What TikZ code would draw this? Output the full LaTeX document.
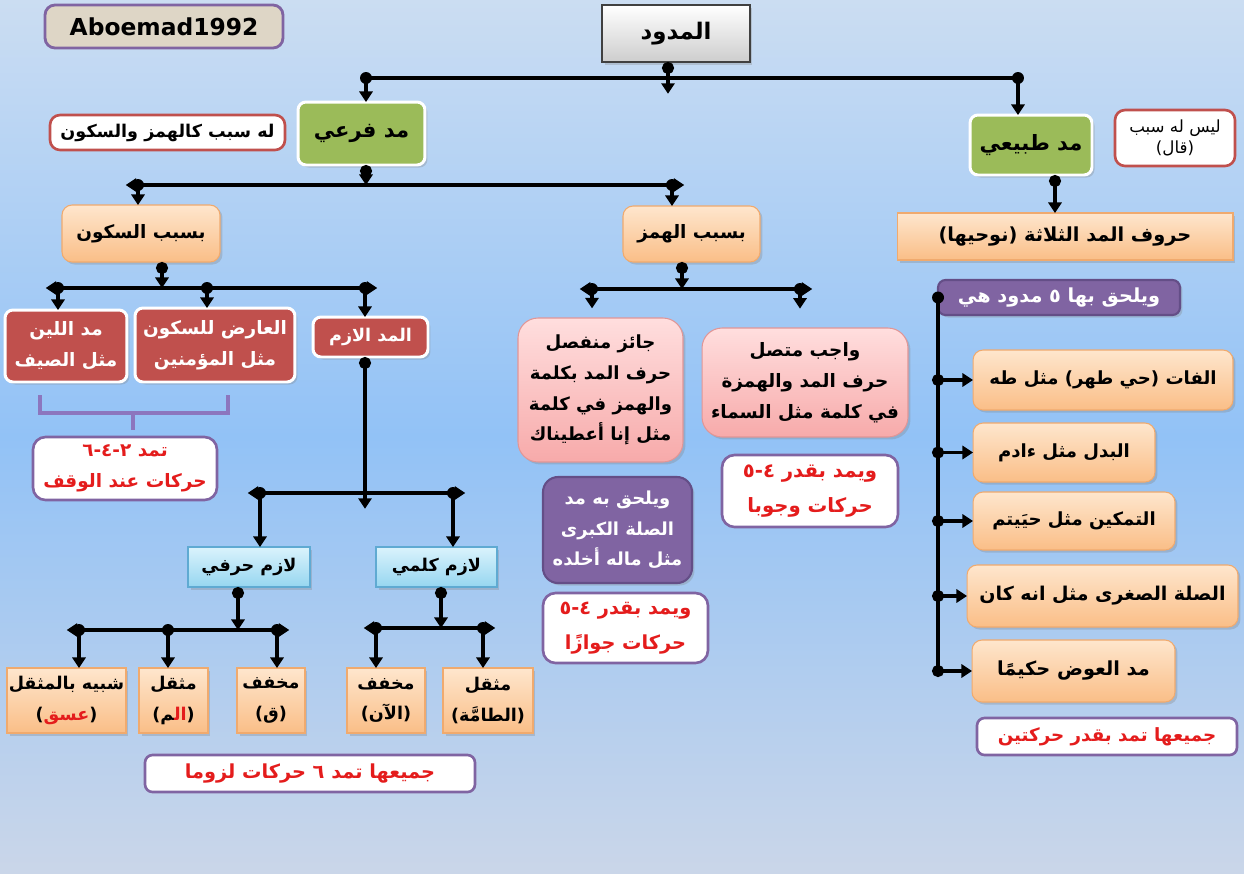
\documentclass[tikz,border=0pt]{standalone}
\usepackage{fontspec}
\setmainfont{DejaVu Sans}
\newfontfamily\arabicfont[Script=Arabic]{DejaVu Sans}
\newfontfamily\latinb{DejaVu Sans}
\TeXXeTstate=1
\usetikzlibrary{arrows.meta,shadows}
\newcommand\AR[1]{\beginR#1\endR}
\newcommand\F[1]{\arabicfont\bfseries\fontsize{#1}{17.5}\selectfont}
\definecolor{bgtop}{RGB}{203,221,242}
\definecolor{bgmid}{RGB}{146,194,246}
\definecolor{bgbot}{RGB}{202,214,233}
\definecolor{grn}{RGB}{155,187,89}
\definecolor{rbox}{RGB}{192,80,77}
\definecolor{pur}{RGB}{128,100,162}
\definecolor{purd}{RGB}{100,78,135}
\definecolor{orgT}{RGB}{254,230,205}
\definecolor{orgB}{RGB}{250,190,135}
\definecolor{orgD}{RGB}{240,170,110}
\definecolor{pnkT}{RGB}{255,222,222}
\definecolor{pnkB}{RGB}{247,170,170}
\definecolor{pnkD}{RGB}{225,150,150}
\definecolor{cyT}{RGB}{218,243,252}
\definecolor{cyB}{RGB}{150,214,240}
\definecolor{cyD}{RGB}{95,170,210}
\definecolor{tred}{RGB}{228,28,28}
\definecolor{beige}{RGB}{222,214,198}
\definecolor{gryB}{RGB}{205,205,205}
\definecolor{brc}{RGB}{140,118,190}
\tikzset{
  ln/.style={line width=2.2pt, black},
  dotarr/.style={ln, {Circle[length=6.8pt]}-{Triangle[length=6pt,width=7.5pt]}},
  arr/.style={ln, -{Triangle[length=6pt,width=7.5pt]}},
  barst/.style={ln, {Triangle[length=6pt,width=7.5pt]}-{Triangle[length=6pt,width=7.5pt]}, shorten <=-7pt, shorten >=-7pt},
  brace/.style={line width=1.8pt, brc},
  bx/.style={align=center, inner sep=1pt, outer sep=0pt, text=black, font=\F{10.5}},
  shd/.style={drop shadow={opacity=0.3,shadow xshift=0.05cm,shadow yshift=-0.05cm}},
  grnbox/.style={bx, shd, fill=grn, draw=white, line width=1.7pt, rounded corners=0.16cm, font=\F{12}},
  redbox/.style={bx, shd, fill=rbox, draw=white, line width=1.7pt, rounded corners=0.16cm, text=white},
  orgbox/.style={bx, shd, top color=orgT, bottom color=orgB, draw=orgD, line width=0.6pt, rounded corners=0.2cm},
  orgsq/.style={bx, shd, top color=orgT, bottom color=orgB, draw=orgD, line width=0.6pt},
  pnkbox/.style={bx, shd, top color=pnkT, bottom color=pnkB, draw=pnkD, line width=0.6pt, rounded corners=0.4cm},
  cybox/.style={bx, shd, top color=cyT, bottom color=cyB, draw=cyD, line width=0.6pt},
  purbox/.style={bx, shd, fill=pur, draw=purd, line width=1.2pt, rounded corners=0.3cm, text=white},
  wbox/.style={bx, fill=white, draw=pur, line width=1.5pt, rounded corners=0.25cm, text=tred},
  wrbox/.style={bx, fill=white, draw=rbox, line width=1.5pt, rounded corners=0.2cm},
  graybox/.style={bx, shd, top color=white, bottom color=gryB, draw=black!75, line width=0.8pt},
}
\begin{document}
\begin{tikzpicture}[x=0.02cm,y=-0.02cm]
\useasboundingbox (0,0) rectangle (1244,873);
\shade[top color=bgtop, bottom color=bgbot, middle color=bgmid] (0,0) rectangle (1244,873);

% nodes
\node[bx, fill=beige, draw=pur, line width=1.6pt, rounded corners=0.2cm, minimum width=4.76cm, minimum height=0.86cm,
  font=\bfseries\fontsize{13.3}{16}\selectfont] (abo) at (164,26.5) {Aboemad1992};
\node[graybox, minimum width=2.96cm, minimum height=1.14cm, font=\F{13}] (root) at (676,33.5) {\AR{المدود}};
\node[grnbox, minimum width=2.54cm, minimum height=1.26cm] (far3i) at (361.5,133.5) {\AR{مد فرعي}};
\node[wrbox, minimum width=4.70cm, minimum height=0.70cm, font=\F{10}] (note1) at (167.5,132.5) {\AR{له سبب كالهمز والسكون}};
\node[grnbox, minimum width=2.44cm, minimum height=1.20cm] (tabii) at (1031,145) {\AR{مد طبيعي}};
\node[wrbox, minimum width=2.40cm, minimum height=1.12cm, font=\arabicfont\fontsize{9.5}{12}\selectfont] (note2) at (1175,138) {\AR{ليس له سبب}\\\AR{(قال)}};
\node[orgbox, minimum width=3.16cm, minimum height=1.14cm] (sukun) at (141,233.5) {\AR{بسبب السكون}};
\node[orgbox, minimum width=2.74cm, minimum height=1.12cm] (hamz) at (691.5,234) {\AR{بسبب الهمز}};
\node[orgsq, minimum width=6.72cm, minimum height=0.94cm, font=\F{11}] (huruf) at (1065,236.5) {\AR{حروف المد الثلاثة (نوحيها)}};
\node[purbox, rounded corners=0.15cm, minimum width=4.84cm, minimum height=0.70cm, font=\F{11}] (yulhaq) at (1059,297.5) {\AR{ويلحق بها ٥ مدود هي}};
\node[redbox, minimum width=2.44cm, minimum height=1.44cm] (lin) at (66,346) {\AR{مد اللين}\\\AR{مثل الصيف}};
\node[redbox, minimum width=3.20cm, minimum height=1.48cm] (arid) at (215,345) {\AR{العارض للسكون}\\\AR{مثل المؤمنين}};
\node[redbox, minimum width=2.30cm, minimum height=0.80cm, font=\F{10}] (lazim) at (370.5,337) {\AR{المد الازم}};
\node[pnkbox, minimum width=3.30cm, minimum height=2.88cm, font=\F{10.3}] (jaiz) at (600.5,390) {\AR{جائز منفصل}\\\AR{حرف المد بكلمة}\\\AR{والهمز في كلمة}\\\AR{مثل إنا أعطيناك}};
\node[pnkbox, minimum width=4.12cm, minimum height=2.18cm, font=\F{10.5}] (wajib) at (805,382.5) {\AR{واجب متصل}\\\AR{حرف المد والهمزة}\\\AR{في كلمة مثل السماء}};
\node[orgbox, minimum width=5.20cm, minimum height=1.20cm, font=\F{10.3}] (r1) at (1103,380) {\AR{الفات (حي طهر) مثل طه}};
\node[orgbox, minimum width=3.64cm, minimum height=1.18cm, font=\F{10.3}] (r2) at (1064,452.5) {\AR{البدل مثل ءادم}};
\node[orgbox, minimum width=4.04cm, minimum height=1.16cm, font=\F{10.3}] (r3) at (1074,521) {\AR{التمكين مثل حيَيتم}};
\node[orgbox, minimum width=5.42cm, minimum height=1.24cm, font=\F{10.8}] (r4) at (1102.5,596) {\AR{الصلة الصغرى مثل انه كان}};
\node[orgbox, minimum width=4.06cm, minimum height=1.24cm, font=\F{11}] (r5) at (1073.5,671) {\AR{مد العوض حكيمًا}};
\node[wbox, rounded corners=0.15cm, minimum width=5.20cm, minimum height=0.74cm, font=\F{10.4}] (r6) at (1107,736.5) {\AR{جميعها تمد بقدر حركتين}};
\node[wbox, minimum width=3.68cm, minimum height=1.26cm] (waqf) at (125,468.5) {\AR{تمد ٢-٤-٦}\\\AR{حركات عند الوقف}};
\node[wbox, minimum width=3.52cm, minimum height=1.44cm, font=\arabicfont\bfseries\fontsize{11.2}{19.5}\selectfont] (wujub) at (810,491) {\AR{ويمد بقدر ٤-٥}\\\AR{حركات وجوبا}};
\node[purbox, minimum width=2.98cm, minimum height=2.12cm, font=\F{10.2}] (kubra) at (617.5,530) {\AR{ويلحق به مد}\\\AR{الصلة الكبرى}\\\AR{مثل ماله أخلده}};
\node[wbox, minimum width=3.30cm, minimum height=1.40cm, font=\arabicfont\bfseries\fontsize{11}{20}\selectfont] (jawaz) at (625.5,628) {\AR{ويمد بقدر ٤-٥}\\\AR{حركات جوازًا}};
\node[cybox, minimum width=2.44cm, minimum height=0.80cm, font=\F{10}] (harfi) at (249,567) {\AR{لازم حرفي}};
\node[cybox, minimum width=2.42cm, minimum height=0.80cm, font=\F{10}] (kalimi) at (436.5,567) {\AR{لازم كلمي}};
\node[orgsq, minimum width=2.38cm, minimum height=1.30cm, font=\F{10}] (shabih) at (66.5,700.5) {\AR{شبيه بالمثقل}\\{\latinb(}\textcolor{tred}{عسق}{\latinb)}};
\node[orgsq, minimum width=1.38cm, minimum height=1.30cm, font=\F{10}] (m1) at (173.5,700.5) {\AR{مثقل}\\{\latinb(}‍م{\color{tred}ال‍}{\latinb)}};
\node[orgsq, minimum width=1.36cm, minimum height=1.30cm, font=\F{10}] (f1) at (271,700.5) {\AR{مخفف}\\\AR{(ق)}};
\node[orgsq, minimum width=1.56cm, minimum height=1.30cm, font=\F{10}] (f2) at (386,700.5) {\AR{مخفف}\\\AR{(الآن)}};
\node[orgsq, minimum width=1.80cm, minimum height=1.30cm, font=\F{10}] (m2) at (488,700.5) {\AR{مثقل}\\\AR{(الطامَّة)}};
\node[wbox, rounded corners=0.15cm, minimum width=6.60cm, minimum height=0.74cm, font=\F{11}] (lizuman) at (310,773.5) {\AR{جميعها تمد ٦ حركات لزوما}};

% connector coordinates
\coordinate (a0) at (668,78); \coordinate (aL) at (366,78); \coordinate (aR) at (1018,78);
\coordinate (b0) at (366,185); \coordinate (bL) at (138,185); \coordinate (bR) at (672,185);
\coordinate (c0) at (682,289); \coordinate (cL) at (592,289); \coordinate (cR) at (800,289);
\coordinate (d0) at (1055,200);
\coordinate (f0) at (162,288); \coordinate (fL) at (58,288); \coordinate (fM) at (207,288); \coordinate (fR) at (365,288);
\coordinate (h0) at (365,493); \coordinate (hL) at (260,493); \coordinate (hR) at (453,493);
\coordinate (i0) at (238,630); \coordinate (iL) at (79,630); \coordinate (iM) at (168,630); \coordinate (iR) at (277,630);
\coordinate (j0) at (441,628); \coordinate (jL) at (376,628); \coordinate (jR) at (483,628);
\coordinate (g1) at (40,395); \coordinate (g2) at (228,395); \coordinate (g3) at (133,413);

% A
\draw[dotarr, shorten >=-9pt] (a0 |- root.south) -- (a0);
\draw[ln] (aL) -- (aR);
\fill (aL) circle (3.4pt) (aR) circle (3.4pt);
\draw[arr] (aL) -- (aL |- far3i.north);
\draw[arr] (aR) -- (aR |- tabii.north);
% B
\draw[dotarr] (b0 |- far3i.south) -- (b0);
\draw[barst] (bL) -- (bR);
\fill (bL) circle (3.4pt) (bR) circle (3.4pt);
\draw[arr] (bL) -- (bL |- sukun.north);
\draw[arr] (bR) -- (bR |- hamz.north);
% C
\draw[dotarr] (c0 |- hamz.south) -- (c0);
\draw[barst] (cL) -- (cR);
\fill (cL) circle (3.4pt) (cR) circle (3.4pt);
\draw[arr, shorten >=5.5pt] (cL) -- (cL |- jaiz.north);
\draw[arr, shorten >=11pt] (cR) -- (cR |- wajib.north);
% D
\draw[dotarr] (d0 |- tabii.south) -- (d0 |- huruf.north);
% E
\draw[ln] (yulhaq.west) -- (yulhaq.west |- r5.west);
\fill (yulhaq.west) circle (3.4pt);
\foreach \r in {r1,r2,r3,r4,r5}
  \draw[dotarr, shorten <=-3.4pt] (yulhaq.west |- \r.west) -- (\r.west);
% F
\draw[dotarr] (f0 |- sukun.south) -- (f0);
\draw[barst] (fL) -- (fR);
\fill (fL) circle (3.4pt) (fM) circle (3.4pt) (fR) circle (3.4pt);
\draw[arr] (fL) -- (fL |- lin.north);
\draw[arr] (fM) -- (fM |- arid.north);
\draw[arr] (fR) -- (fR |- lazim.north);
% G brace
\draw[brace] (g1) -- (g1 |- g3) -- (g2 |- g3) -- (g2);
\draw[brace, shorten >=4pt] (g3) -- (g3 |- waqf.north);
% H
\draw[dotarr, shorten >=-9pt] (h0 |- lazim.south) -- (h0);
\draw[barst] (hL) -- (hR);
\fill (hL) circle (3.4pt) (hR) circle (3.4pt);
\draw[arr] (hL) -- (hL |- harfi.north);
\draw[arr] (hR) -- (hR |- kalimi.north);
% I
\draw[dotarr] (i0 |- harfi.south) -- (i0);
\draw[barst] (iL) -- (iR);
\fill (iL) circle (3.4pt) (iM) circle (3.4pt) (iR) circle (3.4pt);
\draw[arr] (iL) -- (iL |- shabih.north);
\draw[arr] (iM) -- (iM |- m1.north);
\draw[arr] (iR) -- (iR |- f1.north);
% J
\draw[dotarr] (j0 |- kalimi.south) -- (j0);
\draw[barst] (jL) -- (jR);
\fill (jL) circle (3.4pt) (jR) circle (3.4pt);
\draw[arr] (jL) -- (jL |- f2.north);
\draw[arr] (jR) -- (jR |- m2.north);
\end{tikzpicture}
\end{document}
